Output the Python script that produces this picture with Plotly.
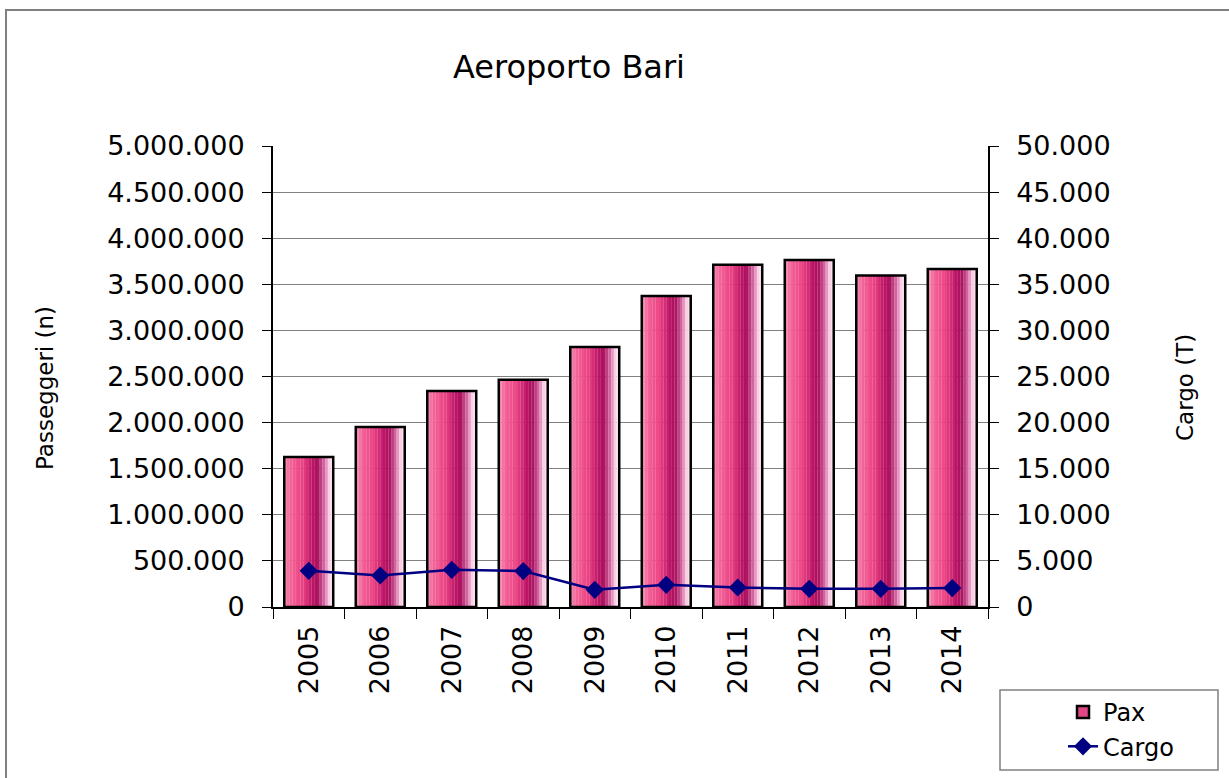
import plotly.graph_objects as go

years = ["2005", "2006", "2007", "2008", "2009", "2010", "2011", "2012", "2013", "2014"]
pax = [1626000, 1951000, 2342000, 2464000, 2820000, 3373000, 3711000, 3763000, 3596000, 3665000]
cargo = [3926, 3416, 4035, 3900, 1866, 2408, 2115, 1974, 1974, 2050]

left_ticks = list(range(0, 5000001, 500000))
right_ticks = list(range(0, 50001, 5000))

FONT = "DejaVu Sans"
BAR_W = 0.685
N_STRIPES = 18

# gradient anchor colours across a bar (left -> right)
anchors = [
    (0.00, (240, 140, 180)),
    (0.15, (244, 96, 150)),
    (0.38, (232, 64, 130)),
    (0.56, (192, 24, 104)),
    (0.68, (168, 14, 92)),
    (0.82, (214, 110, 166)),
    (0.92, (250, 210, 230)),
    (1.00, (255, 228, 242)),
]


def grad(t):
    for (t0, c0), (t1, c1) in zip(anchors[:-1], anchors[1:]):
        if t0 <= t <= t1:
            f = (t - t0) / (t1 - t0) if t1 > t0 else 0
            return "rgb(%d,%d,%d)" % tuple(round(a + (b - a) * f) for a, b in zip(c0, c1))
    return "rgb(%d,%d,%d)" % anchors[-1][1]


fig = go.Figure()

sw = BAR_W / N_STRIPES
for k in range(N_STRIPES):
    col = grad((k + 0.5) / N_STRIPES)
    fig.add_trace(go.Bar(
        x=years, y=pax, width=sw * 1.05, offset=-BAR_W / 2 + k * sw,
        marker=dict(color=col, line=dict(width=0)),
        showlegend=False, hoverinfo="skip", yaxis="y",
    ))

# outline
fig.add_trace(go.Bar(
    x=years, y=pax, width=BAR_W, offset=-BAR_W / 2,
    marker=dict(color="rgba(0,0,0,0)", line=dict(color="black", width=2.5)),
    showlegend=False, name="Pax", yaxis="y",
))

# legend entry for Pax
fig.add_trace(go.Bar(
    x=years, y=[None] * len(years), name="Pax",
    marker=dict(color="rgb(222,70,134)", line=dict(color="black", width=2.5)),
    showlegend=True, yaxis="y", legendgroup="a",
))

fig.add_trace(go.Scatter(
    x=years, y=cargo, name="Cargo", mode="lines+markers", yaxis="y2",
    line=dict(color="#000080", width=2.5),
    marker=dict(symbol="diamond", size=14, color="#000080"),
    legendgroup="b",
))

L, R, T, B = 273, 241, 146, 171
W, H = 1229, 778
pw, ph = W - L - R, H - T - B


def px_x(x):
    return (x - L) / pw


def px_y(y):
    return (H - B - y) / ph


fig.update_layout(
    width=W, height=H,
    margin=dict(l=L, r=R, t=T, b=B, autoexpand=False),
    paper_bgcolor="white", plot_bgcolor="white",
    separators=",.",
    barmode="overlay",
    font=dict(family=FONT, size=27, color="black"),
    title=dict(text="Aeroporto Bari", font=dict(family=FONT, size=32, color="black"),
               xref="paper", x=px_x(569), xanchor="center",
               yref="container", y=1 - 67 / H, yanchor="middle"),
    xaxis=dict(type="category", categoryorder="array", categoryarray=years,
               showline=True, linecolor="black", linewidth=1.5,
               ticks="outside", ticklen=10, tickcolor="black", tickson="boundaries",
               tickangle=-90, ticklabelstandoff=6, showgrid=False,
               tickfont=dict(family=FONT, size=27), range=[-0.5, 9.5]),
    yaxis=dict(range=[0, 5000000], tickvals=left_ticks, tickformat=",d",
               showline=True, linecolor="black", linewidth=2,
               ticks="outside", ticklen=9, tickcolor="black", ticklabelstandoff=12,
               showgrid=True, gridcolor="#808080", gridwidth=1, zeroline=False,
               tickfont=dict(family=FONT, size=27)),
    yaxis2=dict(range=[0, 50000], tickvals=right_ticks, tickformat=",d",
                overlaying="y", side="right",
                showline=True, linecolor="black", linewidth=1.5,
                ticks="outside", ticklen=9, tickcolor="black", ticklabelstandoff=12,
                showgrid=False, zeroline=False,
                tickfont=dict(family=FONT, size=27)),
    showlegend=True,
    legend=dict(x=px_x(1063), y=px_y(690), xanchor="left", yanchor="top",
                bgcolor="rgba(0,0,0,0)", borderwidth=0,
                font=dict(family=FONT, size=24, color="black"),
                tracegroupgap=6, traceorder="normal"),
    annotations=[
        dict(text="Passeggeri (n)", xref="paper", yref="paper", x=px_x(45), y=px_y(388),
             textangle=-90, showarrow=False, font=dict(family=FONT, size=23, color="black"),
             xanchor="center", yanchor="middle"),
        dict(text="Cargo (T)", xref="paper", yref="paper", x=px_x(1185), y=px_y(388),
             textangle=-90, showarrow=False, font=dict(family=FONT, size=23, color="black"),
             xanchor="center", yanchor="middle"),
    ],
    shapes=[
        dict(type="rect", xref="paper", yref="paper",
             x0=px_x(1000), x1=px_x(1218), y0=px_y(690), y1=px_y(770),
             line=dict(color="#808080", width=1.5), fillcolor="rgba(0,0,0,0)", layer="below"),
        dict(type="rect", xref="paper", yref="paper",
             x0=px_x(6), x1=px_x(1260), y0=px_y(10), y1=px_y(800),
             line=dict(color="#808080", width=2), fillcolor="rgba(0,0,0,0)", layer="below"),
    ],
)

fig.write_html(
    "out.html",
    config={"displayModeBar": False},
    post_script="document.body.style.margin='0';document.body.style.padding='0';",
)
